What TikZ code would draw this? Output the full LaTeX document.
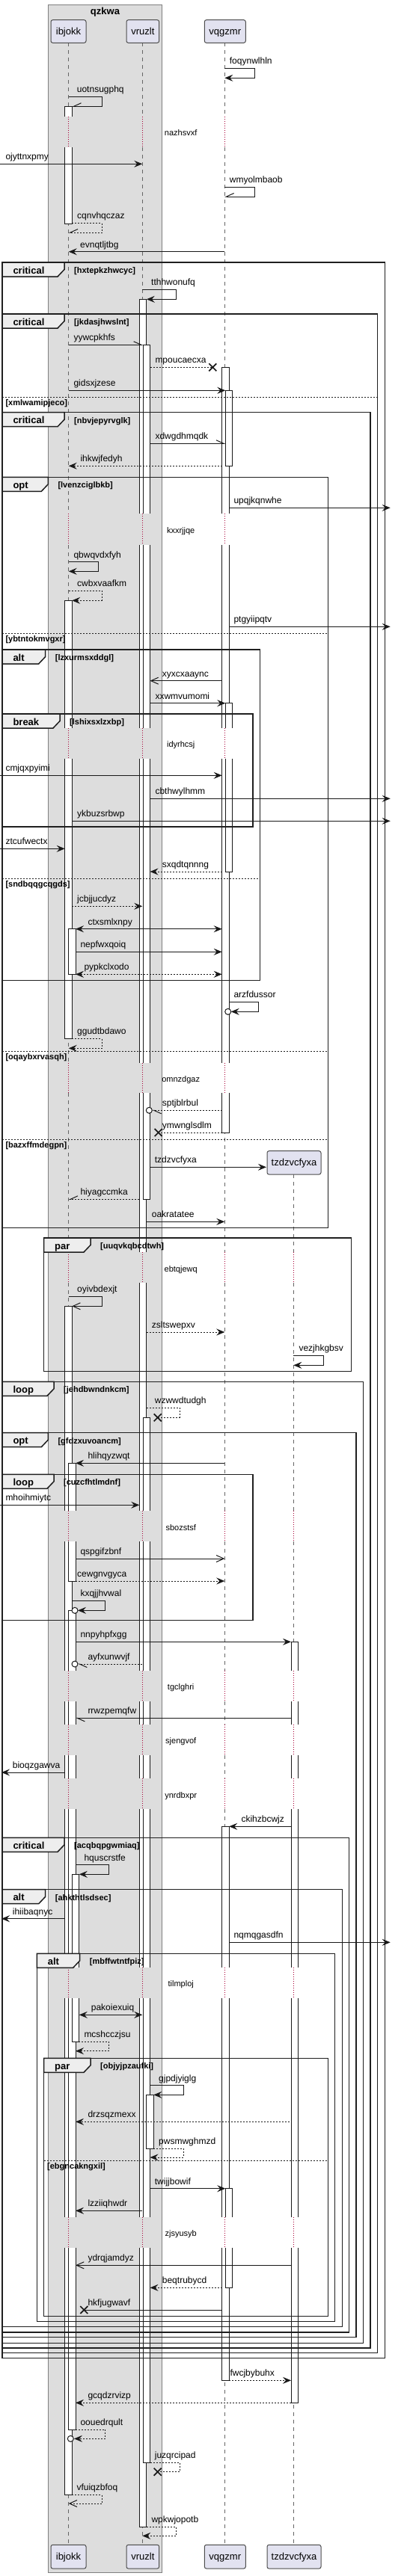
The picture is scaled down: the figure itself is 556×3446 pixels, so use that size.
\documentclass[tikz,border=0pt]{standalone}
\usepackage{fontspec}
\setmainfont{Liberation Sans}
\usetikzlibrary{arrows.meta}
\definecolor{partfill}{HTML}{E2E2F0}
\definecolor{boxfill}{HTML}{DDDDDD}
\definecolor{tabfill}{HTML}{EEEEEE}
\definecolor{delayred}{HTML}{A80036}
\tikzset{
  msg/.style={draw=black!90, line width=1pt},
  dsh/.style={dash pattern=on 2pt off 2pt},
  fa/.style={-{Stealth[length=11pt,width=9pt,inset=4pt]}},
  oa/.style={-{Straight Barb[length=10pt,width=9pt]}},
  hL/.style={-{Straight Barb[harpoon,length=10pt,width=9pt]}},
  hS/.style={-{Straight Barb[harpoon,swap,length=10pt,width=9pt]}},
  ba/.style={{Stealth[length=11pt,width=9pt,inset=4pt]}-{Stealth[length=11pt,width=9pt,inset=4pt]}},
  lbl/.style={anchor=base west, inner sep=0pt, font=\fontsize{12}{14}\selectfont},
  ptxt/.style={anchor=base, inner sep=0pt, font=\fontsize{13}{15}\selectfont},
  pbox/.style={draw=black!70, fill=partfill, line width=1pt, rounded corners=2.5pt},
  dly/.style={anchor=base, inner sep=0pt, font=\fontsize{11}{13}\selectfont},
  tabt/.style={anchor=base west, inner sep=0pt, font=\bfseries\fontsize{13}{15}\selectfont},
  cnd/.style={anchor=base west, inner sep=0pt, font=\bfseries\fontsize{11}{13}\selectfont},
  frm/.style={draw=black!88, line width=1.5pt},
  sepl/.style={draw=black!88, line width=1pt, dash pattern=on 2pt off 2pt},
  actv/.style={draw=black!90, line width=1pt, fill=white},
  life/.style={draw=black!60, line width=0.8pt, dash pattern=on 5pt off 5pt},
  dlife/.style={draw=delayred, line width=0.8pt, dash pattern=on 1pt off 2pt},
}
\newcommand\REdge{521.7}
\newcommand\Msg[6][]{\draw[msg,#1] (#2,#4) -- (#3,#4);
  \node[lbl] (m#6) at (#5,#4-5.5) {#6};}
\newcommand\Self[8][]{\draw[msg,#1] (#2,#5) -- (#4,#5) -- (#4,#6) -- (#3,#6);
  \node[lbl] (m#8) at (#7,#5-5.5) {#8};}
\newcommand\Xm[2]{\draw[line width=1.7pt,black!90] (#1-5,#2-5) -- (#1+5,#2+5) (#1-5,#2+5) -- (#1+5,#2-5);}
\newcommand\Cm[2]{\draw[msg,fill=white] (#1,#2) circle[radius=4];}
\newcommand\Frm[7]{\draw[frm] (#1,#2) rectangle (#3,#4);
  \draw[frm,fill=tabfill] (#1,#2) -- (#1+#5,#2) -- (#1+#5,#2+9.5) -- (#1+#5-9,#2+19) -- (#1,#2+19) -- cycle;
  \node[tabt] (t#7) at (#1+14.3,#2+15.2) {#6};
  \node[cnd] (f#7) at (#1+#5+13,#2+14.3) {[#7]};}
\newcommand\Sep[4]{\draw[sepl] (#1,#3) -- (#2,#3);
  \node[cnd] (s#4) at (#1+4.3,#3+11) {[#4]};}
\newcommand\Part[6]{\draw[pbox] (#3,#5) rectangle (#4,#6);
  \node[ptxt] (#1) at ({(#3+#4)/2},{(#5+#6)/2+4.5}) {#2};}
\newcommand\actF[3]{\filldraw[actv] (#1,#2) rectangle (#1+9.5,#3);}
\newcommand\actT[3]{\fill[white] (#1,#2) rectangle (#1+9.5,#3); \draw[actv,fill=none] (#1,#3) -- (#1,#2) -- (#1+9.5,#2) -- (#1+9.5,#3);}
\newcommand\actB[3]{\fill[white] (#1,#2) rectangle (#1+9.5,#3); \draw[actv,fill=none] (#1,#2) -- (#1,#3) -- (#1+9.5,#3) -- (#1+9.5,#2);}
\newcommand\actN[3]{\fill[white] (#1,#2) rectangle (#1+9.5,#3); \draw[actv,fill=none] (#1,#2) -- (#1,#3) (#1+9.5,#2) -- (#1+9.5,#3);}
\begin{document}
\begin{tikzpicture}[x=1pt,y=-1pt]
\fill[white] (0,0) rectangle (556,3446);
\useasboundingbox (0,0) rectangle (556,3446);
% group box
\draw[fill=boxfill, draw=black!50, line width=0.8pt] (64.3,6) rectangle (216.7,3441);
\node[font=\bfseries\fontsize{13}{15}\selectfont, anchor=base] (qzkwa) at (140.5,19) {qzkwa};
% lifelines
\foreach \a/\b in {57.3/155.7,197/687.3,729.3/974,1015.3/1421.7,1462.3/1675,1716/2021,2062.3/2235,2276/2306.7,2348.3/2379.3,2420.3/2631.7,2673.3/2966,3007/3404.3}{
  \foreach \L in {91.7,190.3,300.3}{\draw[life] (\L,\a) -- (\L,\b);}}
\foreach \a/\b in {155.7/197,687.3/729.3,974/1015.3,1421.7/1462.3,1675/1716,2021/2062.3,2235/2276,2306.7/2348.3,2379.3/2420.3,2631.7/2673.3,2966/3007}{
  \foreach \L in {91.7,190.3,300.3}{\draw[dlife] (\L,\a) -- (\L,\b);}}
\foreach \a/\b in {1571/1675,1716/2021,2062.3/2235,2276/2306.7,2348.3/2379.3,2420.3/2631.7,2673.3/2966,3007/3404.3}{\draw[life] (392.3,\a) -- (392.3,\b);}
\foreach \a/\b in {1675/1716,2021/2062.3,2235/2276,2306.7/2348.3,2379.3/2420.3,2631.7/2673.3,2966/3007}{\draw[dlife] (392.3,\a) -- (392.3,\b);}
% participants
\Part{pib}{ibjokk}{68}{115}{26.7}{57.3}
\Part{pvr}{vruzlt}{169}{212.7}{26.7}{57.3}
\Part{pvq}{vqgzmr}{273.3}{328.3}{26.7}{57.3}
\Part{ptz}{tzdzvcfyxa}{357}{429}{1539.7}{1571}
\Part{pibb}{ibjokk}{68}{115}{3404.3}{3436}
\Part{pvrb}{vruzlt}{169}{212.7}{3404.3}{3436}
\Part{pvqb}{vqgzmr}{273.3}{328.3}{3404.3}{3436}
\Part{ptzb}{tzdzvcfyxa}{357}{429}{3404.3}{3436}
% activations ibjokk
\actT{86.7}{142.3}{155.7}\actB{86.7}{197}{299.3}
\actT{86.7}{803.3}{974}\actB{86.7}{1015.3}{1389.3}
\actT{86.7}{1747.3}{2021}\actN{86.7}{2062.3}{2235}\actN{86.7}{2276}{2306.7}\actN{86.7}{2348.3}{2379.3}\actN{86.7}{2420.3}{2631.7}\actN{86.7}{2673.3}{2966}\actB{86.7}{3007}{3337.3}
\actF{91.5}{1242.7}{1303.3}
\actT{91.5}{1957.3}{2021}\actB{91.5}{2062.3}{2115}
\actT{91.5}{2154.3}{2235}\actN{91.5}{2276}{2306.7}\actN{91.5}{2348.3}{2379.3}\actN{91.5}{2420.3}{2631.7}\actN{91.5}{2673.3}{2966}\actB{91.5}{3007}{3250}
\actT{96.3}{2507.3}{2631.7}\actB{96.3}{2673.3}{2731}
% activations vruzlt
\actT{186.3}{400.3}{687.3}\actN{186.3}{729.3}{974}\actN{186.3}{1015.3}{1421.7}\actN{186.3}{1462.3}{1675}\actN{186.3}{1716}{2021}\actN{186.3}{2062.3}{2235}\actN{186.3}{2276}{2306.7}\actN{186.3}{2348.3}{2379.3}\actN{186.3}{2420.3}{2631.7}\actN{186.3}{2673.3}{2966}\actB{186.3}{3007}{3380}
\actT{191}{461.3}{687.3}\actN{191}{729.3}{974}\actN{191}{1015.3}{1421.7}\actB{191}{1462.3}{1604.3}
\actT{191}{1896.3}{2021}\actN{191}{2062.3}{2235}\actN{191}{2276}{2306.7}\actN{191}{2348.3}{2379.3}\actN{191}{2420.3}{2631.7}\actN{191}{2673.3}{2966}\actB{191}{3007}{3294.3}
\actF{195.8}{2802.3}{2874}
% activations vqgzmr
\actT{296.7}{491.3}{687.3}\actN{296.7}{729.3}{974}\actN{296.7}{1015.3}{1421.7}\actB{296.7}{1462.3}{1515}
\actT{296.7}{2443.3}{2631.7}\actN{296.7}{2673.3}{2966}\actB{296.7}{3007}{3184.3}
\actF{301.3}{522.3}{623.3}
\actT{301.3}{940.7}{974}\actB{301.3}{1015.3}{1166}
\actT{301.3}{2927.7}{2966}\actB{301.3}{3007}{3060.3}
% activations tzdzvcfyxa
\actT{389}{2196.3}{2235}\actN{389}{2276}{2306.7}\actN{389}{2348.3}{2379.3}\actN{389}{2420.3}{2631.7}\actN{389}{2673.3}{2966}\actB{389}{3007}{3214.3}
% frames
\Frm{3}{351}{514.3}{3154.3}{83}{critical}{hxtepkzhwcyc}
\Frm{3}{420}{504.3}{3147.7}{83}{critical}{jkdasjhwslnt}
\Sep{3}{504.3}{531.7}{xmlwamipjeco}
\Frm{3}{551.7}{495}{3141}{83}{critical}{nbvjepyrvglk}
\Frm{3}{638.3}{438.3}{1642.3}{61.3}{opt}{lvenzciglbkb}
\Sep{3}{438.3}{847}{ybtntokmvgxr}
\Sep{3}{438.3}{1406.3}{oqaybxrvasqh}
\Sep{3}{438.3}{1524}{bazxffmdegpn}
\Frm{3}{869}{347.3}{1311.7}{57.7}{alt}{lzxurmsxddgl}
\Sep{3}{347.3}{1175}{sndbqqgcqgds}
\Frm{3}{955}{338}{1106}{77}{break}{lshixsxlzxbp}
\Frm{58.7}{1656}{469.7}{1834.3}{62.3}{par}{uuqvkqbcdtwh}
\Frm{3}{1848.3}{485.7}{3134.3}{69}{loop}{jehdbwndnkcm}
\Frm{3}{1916.7}{476}{3126.7}{61.3}{opt}{gfdzxuvoancm}
\Frm{3}{1972.3}{338}{2167.3}{69}{loop}{cuzcfhtlmdnf}
\Frm{3}{2458.3}{466.7}{3120}{83}{critical}{acqbqpgwmiaq}
\Frm{3}{2527.7}{457.3}{3112.7}{57.7}{alt}{ahkthtlsdsec}
\Frm{49.3}{2613.3}{447.7}{3105.7}{57.4}{alt}{mbffwtntfpiz}
\Frm{58.7}{2753.3}{438.3}{3098.3}{62.3}{par}{objyjpzaufki}
\Sep{58.7}{438.3}{2890.3}{ebgncakngxil}
% delays
\node[dly] (dnazhsvxf) at (241.7,181) {nazhsvxf};
\node[dly] (dkxxrjjqe) at (241.7,713.3) {kxxrjjqe};
\node[dly] (didyrhcsj) at (241.7,999) {idyrhcsj};
\node[dly] (domnzdgaz) at (241.7,1447.3) {omnzdgaz};
\node[dly] (debtqjewq) at (241.7,1701.3) {ebtqjewq};
\node[dly] (dsbozstsf) at (241.7,2047.3) {sbozstsf};
\node[dly] (dtgclghri) at (241.7,2260) {tgclghri};
\node[dly] (dsjengvof) at (241.7,2332.3) {sjengvof};
\node[dly] (dynrdbxpr) at (241.7,2405) {ynrdbxpr};
\node[dly] (dtilmploj) at (241.7,2657.3) {tilmploj};
\node[dly] (dzjsyusyb) at (241.7,2991.3) {zjsyusyb};
% messages
\Self[fa]{300.3}{300.3}{340.7}{91.3}{104.3}{306.7}{foqynwlhln}
\Self[hS]{91.7}{96.2}{136}{129.3}{142.3}{102.7}{uotnsugphq}
\Msg[fa]{0}{190.3}{219.3}{7.3}{ojyttnxpmy}
\Self[hS]{300.3}{300.3}{340.7}{250.3}{263}{306.7}{wmyolmbaob}
\Self[hS,dsh]{96.2}{91.7}{136}{298.3}{311}{103}{cqnvhqczaz}
\Msg[fa]{300.3}{91.7}{336.7}{107}{evnqtljtbg}
\Self[fa]{190.3}{195.8}{235.3}{387.3}{400.3}{202}{tthhwonufq}
\Msg[hL]{91.7}{191}{461.3}{98.3}{yywcpkhfs}
\Msg[dsh]{200.5}{284.3}{491.3}{207.3}{mpoucaecxa}\Xm{284.3}{491.3}
\Msg[fa]{91.7}{301.3}{522.3}{98.3}{gidsxjzese}
\Msg[hL]{200.5}{301.3}{593.3}{207.3}{xdwgdhmqdk}
\Msg[fa,dsh]{296.7}{91.7}{623.3}{107.3}{ihkwjfedyh}
\Msg[fa]{306.2}{\REdge}{679.3}{312.3}{upqjkqnwhe}
\Self[fa]{91.7}{91.7}{131.3}{751.7}{764.3}{98.3}{qbwqvdxfyh}
\Self[fa,dsh]{91.7}{96.2}{136}{790.3}{803.3}{103}{cwbxvaafkm}
\Msg[fa]{306.2}{\REdge}{838.3}{312.3}{ptgyiipqtv}
\Msg[oa]{296.7}{200.5}{910.7}{216.7}{xyxcxaaync}
\Msg[fa]{200.5}{301.3}{940.7}{207.3}{xxwmvumomi}
\Msg[fa]{0}{296.7}{1037.3}{7.3}{cmjqxpyimi}
\Msg[fa]{200.5}{\REdge}{1068.3}{207.3}{cbthwylhmm}
\Msg[fa]{96.2}{\REdge}{1098.3}{103}{ykbuzsrbwp}
\Msg[fa]{0}{86.7}{1135.3}{7.3}{ztcufwectx}
\Msg[fa,dsh]{296.7}{200.5}{1166}{216.7}{sxqdtqnnng}
\Msg[fa,dsh]{96.2}{190.3}{1212.3}{103}{jcbjjucdyz}
\Msg[ba]{101}{296.7}{1242.7}{117.3}{ctxsmlxnpy}
\Msg[fa]{101}{296.7}{1273.3}{107.3}{nepfwxqoiq}
\Msg[ba,dsh]{101}{296.7}{1303.3}{112.3}{pypkclxodo}
\Self[fa]{306.2}{308.7}{345.3}{1340.3}{1353.3}{312.3}{arzfdussor}\Cm{304.7}{1353.3}
\Self[fa,dsh]{96.2}{91.7}{136}{1389.3}{1402.3}{103}{ggudtbdawo}
\Msg[hL,dsh]{296.7}{203.3}{1485.3}{216.7}{sptjblrbul}\Cm{199.3}{1485.3}
\Msg[dsh]{296.7}{211.7}{1515}{216.7}{ymwnglsdlm}\Xm{211.7}{1515}
\Msg[fa]{200.5}{356}{1561.3}{206.7}{tzdzvcfyxa}
\Msg[hS,dsh]{186.3}{91.7}{1604.3}{107.3}{hiyagccmka}
\Msg[fa]{195.8}{300.3}{1634.3}{202.7}{oakratatee}
\Self[oa]{91.7}{96.2}{136}{1734.3}{1747.3}{103}{oyivbdexjt}
\Msg[fa,dsh]{195.8}{300.3}{1782}{202.7}{zsltswepxv}
\Self[fa]{392.3}{392.3}{432.7}{1813.3}{1826.3}{399.3}{vezjhkgbsv}
\Self[dsh]{195.8}{210.7}{240}{1883.3}{1896.3}{206.7}{wzwwdtudgh}\Xm{210.7}{1896.3}
\Msg[fa]{300.3}{101}{1957.3}{117.3}{hlihqyzwqt}
\Msg[fa]{0}{186.3}{2013.3}{7.3}{mhoihmiytc}
\Msg[oa]{101}{300.3}{2085}{107.3}{qspgifzbnf}
\Msg[fa,dsh]{101}{300.3}{2115}{103}{cewgnvgyca}
\Self[fa]{96.2}{104}{140.7}{2141.3}{2154.3}{107.3}{kxqjjhvwal}\Cm{100}{2154.3}
\Msg[fa]{101}{389}{2196.3}{107.3}{nnpyhpfxgg}
\Msg[hL,dsh]{190.3}{104}{2226}{117.3}{ayfxunwvjf}\Cm{100}{2226}
\Msg[hL]{389}{101}{2298.3}{117.3}{rrwzpemqfw}
\Msg[fa]{86.7}{2}{2371}{16.7}{bioqzgawva}
\Msg[fa]{389}{306.2}{2443.3}{322.3}{ckihzbcwjz}
\Self[fa]{101}{105.8}{145.3}{2494.7}{2507.3}{112.3}{hquscrstfe}
\Msg[fa]{86.7}{2}{2566.7}{16.7}{ihiibaqnyc}
\Msg[fa]{306.2}{\REdge}{2598.3}{312.3}{nqmqgasdfn}
\Msg[ba]{105.8}{190.3}{2695.3}{121.7}{pakoiexuiq}
\Self[fa,dsh]{101}{101}{145.3}{2731}{2743.7}{112.3}{mcshcczjsu}
\Self[fa]{200.5}{205.3}{245}{2789.7}{2802.3}{212}{gjpdjyiglg}
\Msg[fa,dsh]{386.7}{101}{2838.3}{117.3}{drzsqzmexx}
\Self[fa,dsh]{205.3}{200.5}{245}{2874}{2886}{212}{pwsmwghmzd}
\Msg[fa]{200.5}{301.3}{2927.7}{206.7}{twijjbowif}
\Msg[fa]{190.3}{101}{2957.3}{117.3}{lzziiqhwdr}
\Msg[oa]{389}{101}{3030.3}{117.3}{ydrqjamdyz}
\Msg[fa,dsh]{296.7}{200.5}{3060.3}{216.7}{beqtrubycd}
\Msg{296.7}{112.3}{3090}{117.3}{hkfjugwavf}\Xm{112.3}{3090}
\Msg[fa,dsh]{306.2}{389}{3184.3}{307.3}{fwcjbybuhx}
\Msg[fa,dsh]{389}{101}{3214.3}{117.3}{gcqdzrvizp}
\Self[fa,dsh]{101}{99}{140.7}{3250}{3262.3}{107.3}{oouedrqult}\Cm{94.3}{3262.3}
\Self[dsh]{200.5}{210.7}{240}{3294.3}{3306.7}{206.7}{juzqrcipad}\Xm{210.7}{3306.7}
\Self[oa,dsh]{96.2}{91.7}{136}{3337.3}{3349}{102.3}{vfuiqzbfoq}
\Self[fa,dsh]{195.8}{190.3}{235.3}{3380}{3392.3}{202.3}{wpkwjopotb}
\end{tikzpicture}
\end{document}
